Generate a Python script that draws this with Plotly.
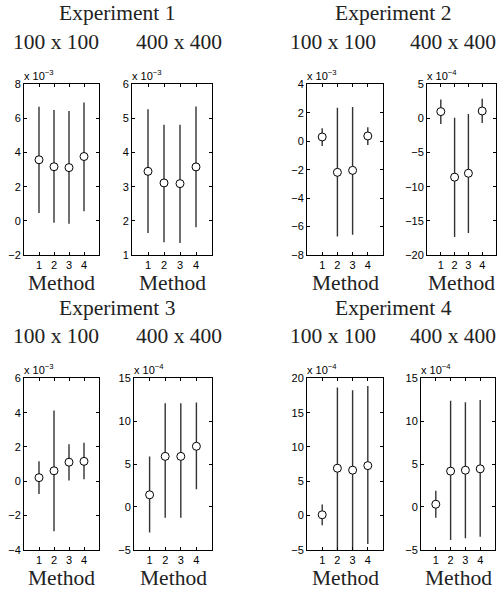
import plotly.graph_objects as go

W, H = 500, 597

methods = [1, 2, 3, 4]
experiments = ["Experiment 1", "Experiment 2", "Experiment 3", "Experiment 4"]
sizes = ["100 x 100", "400 x 400"]

# values in displayed units (multiplied by 10^exponent shown above each panel)
p1_exp = -3
p1_mean = [3.58, 3.17, 3.12, 3.77]
p1_upper = [6.69, 6.50, 6.44, 6.94]
p1_lower = [0.46, -0.12, -0.17, 0.56]

p2_exp = -3
p2_mean = [3.45, 3.11, 3.09, 3.58]
p2_upper = [5.27, 4.82, 4.82, 5.35]
p2_lower = [1.64, 1.37, 1.35, 1.81]

p3_exp = -3
p3_mean = [0.30, -2.19, -2.05, 0.37]
p3_upper = [0.91, 2.35, 2.40, 0.98]
p3_lower = [-0.34, -6.70, -6.58, -0.27]

p4_exp = -4
p4_mean = [1.01, -8.60, -8.03, 1.10]
p4_upper = [2.79, 0.10, 0.67, 2.88]
p4_lower = [-0.82, -17.36, -16.78, -0.67]

p5_exp = -3
p5_mean = [0.21, 0.61, 1.11, 1.16]
p5_upper = [1.16, 4.13, 2.16, 2.25]
p5_lower = [-0.75, -2.91, 0.05, 0.11]

p6_exp = -4
p6_mean = [1.42, 5.90, 5.90, 7.08]
p6_upper = [5.90, 12.09, 12.09, 12.17]
p6_lower = [-2.97, -1.25, -1.25, 2.07]

p7_exp = -4
p7_mean = [0.11, 6.90, 6.62, 7.28]
p7_upper = [1.60, 18.66, 18.28, 18.90]
p7_lower = [-1.41, -5.20, -5.20, -4.14]

p8_exp = -4
p8_mean = [0.32, 4.18, 4.29, 4.45]
p8_upper = [1.88, 12.40, 12.21, 12.48]
p8_lower = [-1.25, -3.85, -3.66, -3.47]

y_ranges = [(-2, 8), (1, 6), (-8, 4), (-20, 5), (-4, 6), (-5, 15), (-5, 20), (-5, 15)]
y_dticks = [2, 1, 2, 5, 2, 5, 5, 5]

panels = [
    (p1_exp, p1_mean, p1_upper, p1_lower),
    (p2_exp, p2_mean, p2_upper, p2_lower),
    (p3_exp, p3_mean, p3_upper, p3_lower),
    (p4_exp, p4_mean, p4_upper, p4_lower),
    (p5_exp, p5_mean, p5_upper, p5_lower),
    (p6_exp, p6_mean, p6_upper, p6_lower),
    (p7_exp, p7_mean, p7_upper, p7_lower),
    (p8_exp, p8_mean, p8_upper, p8_lower),
]

# pixel boxes (left, right, top, bottom)
boxes = [
    (24, 99, 80, 254), (132, 212, 80, 254), (307, 383, 80, 254), (427, 496, 80, 254),
    (24, 99, 380, 555), (134, 212, 380, 555), (307, 383, 380, 555), (421, 495, 380, 555),
]

def px(x):
    return x / W

def py(y):
    return 1 - y / H

fig = go.Figure()
layout = dict(
    width=W, height=H, margin=dict(l=0, r=0, t=0, b=0),
    paper_bgcolor="white", plot_bgcolor="white", showlegend=False,
)
annotations = []

tick_font = dict(family="Liberation Sans, Arial, sans-serif", size=11, color="black")
serif = dict(family="Liberation Serif, Times New Roman, serif", size=21.5, color="#222")

for i, ((e, mean, up, lo), (l, r, t, b)) in enumerate(zip(panels, boxes)):
    n = i + 1
    xa = "x" if n == 1 else f"x{n}"
    ya = "y" if n == 1 else f"y{n}"
    fig.add_trace(go.Scatter(
        x=methods, y=mean, mode="markers", xaxis=xa, yaxis=ya,
        marker=dict(symbol="circle", size=8, color="white", line=dict(color="black", width=1)),
        error_y=dict(type="data", symmetric=False,
                     array=[u - m for u, m in zip(up, mean)],
                     arrayminus=[m - d for m, d in zip(mean, lo)],
                     width=0, thickness=1.4, color="#333"),
    ))
    axcommon = dict(showline=True, linecolor="black", linewidth=1, mirror="ticks",
                    ticks="inside", ticklen=3, tickwidth=1, tickcolor="black",
                    showgrid=False, zeroline=False, tickfont=tick_font)
    layout["xaxis" if n == 1 else f"xaxis{n}"] = dict(
        domain=[px(l), px(r)], anchor=ya, range=[0, 5],
        tickmode="array", tickvals=methods, ticktext=[str(m) for m in methods], **axcommon)
    y0, y1 = y_ranges[i]
    layout["yaxis" if n == 1 else f"yaxis{n}"] = dict(
        domain=[py(b), py(t)], anchor=xa, range=[y0, y1],
        tick0=y0, dtick=y_dticks[i], **axcommon)
    annotations.append(dict(
        x=px(l), y=py(t), xref="paper", yref="paper", xanchor="left", yanchor="bottom",
        text=f"x 10<sup>\u2212{abs(e)}</sup>", showarrow=False,
        font=dict(family="Liberation Sans, Arial, sans-serif", size=11, color="black"),
        xshift=-2, yshift=0))
    annotations.append(dict(
        x=px((l + r) / 2), y=py(b + 28.5), xref="paper", yref="paper",
        xanchor="center", yanchor="middle", text="Method", showarrow=False, font=serif))

sub_x = [56, 179, 333, 453]
exp_x = [117, 393]
for row, (ey, sy) in enumerate([(7, 37), (308, 337)]):
    for c in range(2):
        annotations.append(dict(
            x=px(exp_x[c]), y=py(ey), xref="paper", yref="paper",
            xanchor="center", yanchor="middle", text=experiments[row * 2 + c],
            showarrow=False, font=serif))
    for k in range(4):
        annotations.append(dict(
            x=px(sub_x[k]), y=py(sy), xref="paper", yref="paper",
            xanchor="center", yanchor="middle", text=sizes[k % 2],
            showarrow=False, font=serif))

layout["annotations"] = annotations
fig.update_layout(**layout)
fig.write_html("out.html", config={"displayModeBar": False},
               post_script="document.body.style.margin='0';document.body.style.overflow='hidden';")
